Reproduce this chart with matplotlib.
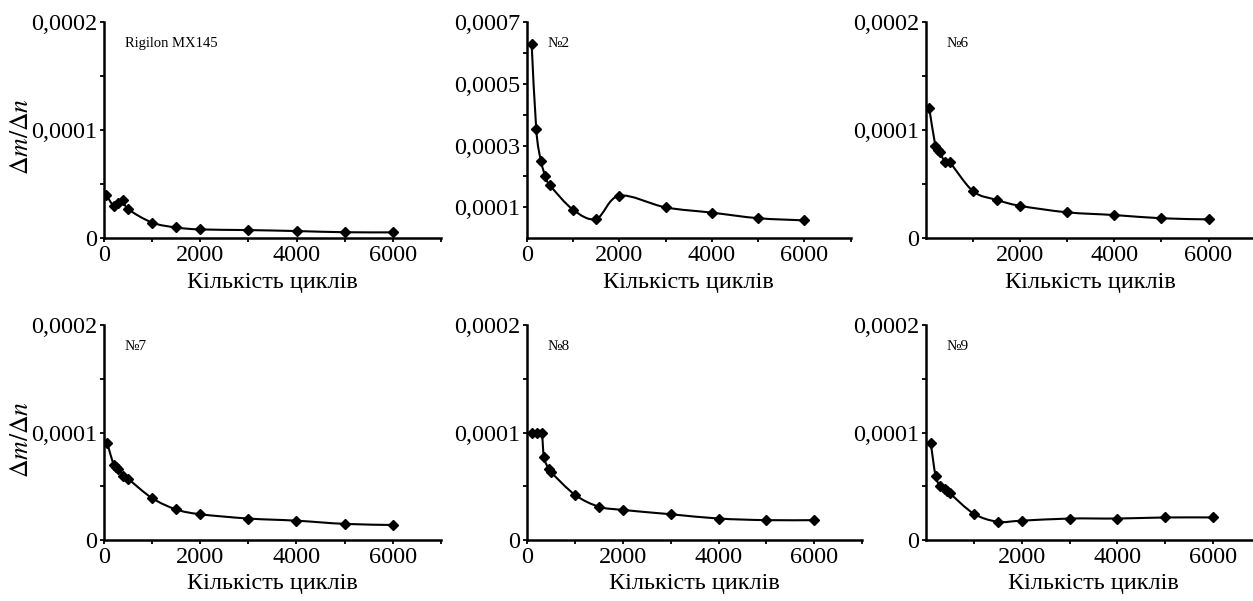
import numpy as np
import matplotlib
matplotlib.use("Agg")
import matplotlib.pyplot as plt
from matplotlib.path import Path
from matplotlib.patches import PathPatch

plt.rcParams['font.family'] = ['Liberation Serif', 'DejaVu Serif']
plt.rcParams['mathtext.fontset'] = 'stix'

# --- data ---
names = ["Rigilon MX145", "№2", "№6", "№7", "№8", "№9"]

x_rig = [50, 200, 300, 400, 500, 1000, 1500, 2000, 3000, 4000, 5000, 6000]
y_rig = [4.0e-5, 3.0e-5, 3.3e-5, 3.5e-5, 2.7e-5, 1.45e-5, 1.0e-5, 8.2e-6, 7.6e-6, 6.7e-6, 5.6e-6, 5.5e-6]

x_n2 = [100, 200, 300, 400, 500, 1000, 1500, 2000, 3000, 4000, 5000, 6000]
y_n2 = [6.3e-4, 3.52e-4, 2.51e-4, 2.0e-4, 1.71e-4, 9.2e-5, 6.3e-5, 1.38e-4, 1.0e-4, 8.3e-5, 6.5e-5, 5.8e-5]

x_n6 = [70, 200, 250, 300, 400, 500, 1000, 1500, 2000, 3000, 4000, 5000, 6000]
y_n6 = [1.2e-4, 8.55e-5, 8.2e-5, 7.95e-5, 7.05e-5, 7.05e-5, 4.35e-5, 3.55e-5, 3.0e-5, 2.4e-5, 2.15e-5, 1.85e-5, 1.75e-5]

x_n7 = [70, 200, 250, 300, 400, 500, 1000, 1500, 2000, 3000, 4000, 5000, 6000]
y_n7 = [9.0e-5, 7.0e-5, 6.8e-5, 6.65e-5, 6.0e-5, 5.7e-5, 3.9e-5, 2.85e-5, 2.4e-5, 2.0e-5, 1.8e-5, 1.5e-5, 1.4e-5]

x_n8 = [100, 200, 300, 350, 450, 500, 1000, 1500, 2000, 3000, 4000, 5000, 6000]
y_n8 = [1.0e-4, 1.0e-4, 1.0e-4, 7.7e-5, 6.6e-5, 6.3e-5, 4.2e-5, 3.1e-5, 2.8e-5, 2.4e-5, 2.0e-5, 1.85e-5, 1.85e-5]

x_n9 = [100, 200, 300, 400, 450, 500, 1000, 1500, 2000, 3000, 4000, 5000, 6000]
y_n9 = [9.05e-5, 6.0e-5, 5.0e-5, 4.75e-5, 4.55e-5, 4.35e-5, 2.45e-5, 1.7e-5, 1.8e-5, 2.0e-5, 2.0e-5, 2.1e-5, 2.1e-5]

xs = [x_rig, x_n2, x_n6, x_n7, x_n8, x_n9]
ys = [y_rig, y_n2, y_n6, y_n7, y_n8, y_n9]

ymax = [0.0002, 0.0007, 0.0002, 0.0002, 0.0002, 0.0002]
yticks_small = [0, 0.0001, 0.0002]
ylabels_small = ["0", "0,0001", "0,0002"]
yticks_n2 = [0.0001, 0.0003, 0.0005, 0.0007]
ylabels_n2 = ["0,0001", "0,0003", "0,0005", "0,0007"]
xticks_full = [0, 2000, 4000, 6000]
xticks_no0 = [2000, 4000, 6000]

# axes boxes in figure fractions [left, bottom, width, height]
boxes = [
    [0.0830, 0.6035, 0.2690, 0.3600],
    [0.4206, 0.6035, 0.2582, 0.3600],
    [0.7390, 0.6035, 0.2631, 0.3600],
    [0.0830, 0.1015, 0.2688, 0.3572],
    [0.4208, 0.1015, 0.2672, 0.3572],
    [0.7390, 0.1015, 0.2673, 0.3572],
]


def smooth_path(x, y):
    # Catmull-Rom style bezier through the points (like a smoothed Excel line)
    p = np.column_stack([x, y]).astype(float)
    verts = [p[0]]
    codes = [Path.MOVETO]
    n = len(p)
    for i in range(n - 1):
        p0 = p[i - 1] if i > 0 else p[i]
        p3 = p[i + 2] if i + 2 < n else p[i + 1]
        c1 = p[i] + (p[i + 1] - p0) / 6.0
        c2 = p[i + 1] - (p3 - p[i]) / 6.0
        verts += [c1, c2, p[i + 1]]
        codes += [Path.CURVE4] * 3
    return Path(verts, codes)


fig = plt.figure(figsize=(12.53, 6.01), dpi=100)

for k in range(6):
    ax = fig.add_axes(boxes[k])
    ax.set_xlim(0, 7000)
    ax.set_ylim(0, ymax[k])

    ax.add_patch(PathPatch(smooth_path(xs[k], ys[k]), facecolor='none',
                           edgecolor='black', lw=1.5))
    ax.plot(xs[k], ys[k], linestyle='none', marker='D', ms=5.5,
            color='black')

    for s in ['top', 'right']:
        ax.spines[s].set_visible(False)
    for s in ['left', 'bottom']:
        ax.spines[s].set_linewidth(1.8)

    if k == 1:
        ax.set_yticks(yticks_n2)
        ax.set_yticklabels(ylabels_n2)
        ax.set_yticks([0.0002, 0.0004, 0.0006], minor=True)
    else:
        ax.set_yticks(yticks_small)
        ax.set_yticklabels(ylabels_small)
        ax.set_yticks([0.00005, 0.00015], minor=True)

    xt = xticks_no0 if k in (2, 5) else xticks_full
    ax.set_xticks(xt)
    ax.set_xticklabels([str(v) for v in xt])
    ax.set_xticks([1000, 3000, 5000, 7000], minor=True)

    ax.tick_params(axis='both', which='both', direction='out', length=3,
                   width=1.3, labelsize=17.5, pad=2)

    ax.set_xlabel("Кількість циклів", fontsize=17.5, labelpad=4)

    ax.text(0.062, 0.9, names[k], transform=ax.transAxes, fontsize=10.5 if k == 0 else 11,
            ha='left', va='center')

    if k in (0, 3):
        ax.set_ylabel(r"$\Delta m/\Delta n$", fontsize=18.5)
        ax.yaxis.set_label_coords(-0.21, 0.47)

fig.savefig("out.png", dpi=100)
